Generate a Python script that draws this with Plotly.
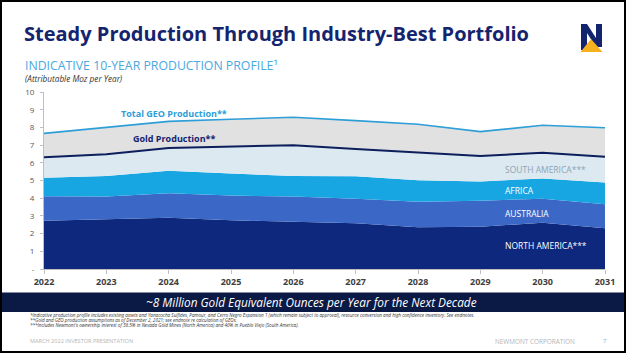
import plotly.graph_objects as go

years = [2022, 2023, 2024, 2025, 2026, 2027, 2028, 2029, 2030, 2031]
north_america = [2.73, 2.81, 2.90, 2.75, 2.67, 2.58, 2.36, 2.39, 2.62, 2.30]
australia = [1.38, 1.28, 1.38, 1.40, 1.42, 1.39, 1.44, 1.47, 1.35, 1.36]
africa = [1.05, 1.16, 1.27, 1.24, 1.16, 1.27, 1.22, 1.09, 1.15, 1.22]
south_america = [1.15, 1.23, 1.29, 1.52, 1.74, 1.54, 1.56, 1.43, 1.45, 1.46]
other_metals = [1.35, 1.52, 1.50, 1.55, 1.58, 1.60, 1.60, 1.38, 1.55, 1.64]
y_tick_vals = [0, 1, 2, 3, 4, 5, 6, 7, 8, 9, 10]
y_tick_text = ["-", "1", "2", "3", "4", "5", "6", "7", "8", "9", "10"]

gold_total = [a + b + c + d for a, b, c, d in zip(north_america, australia, africa, south_america)]
geo_total = [g + o for g, o in zip(gold_total, other_metals)]

W, H = 626, 353
L, R, T, B = 44, 605, 92, 269


def px(x):
    return (x - L) / (R - L)


def py(y):
    return (B - y) / (B - T)


FONT = "Open Sans"
fig = go.Figure()

areas = [
    ("North America", north_america, "#0d287d"),
    ("Australia", australia, "#3b68c6"),
    ("Africa", africa, "#18a6e3"),
    ("South America", south_america, "#dce9f0"),
    ("Other", other_metals, "#e1e1e1"),
]
for name, vals, col in areas:
    fig.add_trace(go.Scatter(x=years, y=vals, name=name, stackgroup="one", mode="none",
                             fillcolor=col, hoverinfo="skip"))

fig.add_trace(go.Scatter(x=years, y=gold_total, mode="lines", line=dict(color="#0c1f5c", width=2),
                         hoverinfo="skip"))
fig.add_trace(go.Scatter(x=years, y=geo_total, mode="lines", line=dict(color="#2e9ed8", width=1.6),
                         hoverinfo="skip"))

shapes = []
# slide frame
shapes.append(dict(type="rect", xref="paper", yref="paper", x0=px(1), x1=px(625), y0=py(352), y1=py(1),
                   line=dict(color="#000000", width=2), fillcolor="rgba(0,0,0,0)", layer="above"))
# banner
shapes.append(dict(type="rect", xref="paper", yref="paper", x0=px(2), x1=px(624), y0=py(312), y1=py(292.5),
                   line=dict(width=0), fillcolor="#0b1945", layer="below"))


def path(pts):
    return "M " + " L ".join(f"{px(x):.5f},{py(y):.5f}" for x, y in pts) + " Z"


n_pts = [(581, 24), (587, 24), (596, 38), (596, 24), (602, 24), (602, 47), (596, 47),
         (587, 33), (587, 50), (581, 50)]
shapes.append(dict(type="path", xref="paper", yref="paper", path=path(n_pts),
                   fillcolor="#13246e", line=dict(width=0)))
tri = [(580.5, 52), (591, 39), (602.5, 52)]
shapes.append(dict(type="path", xref="paper", yref="paper", path=path(tri),
                   fillcolor="#f5b120", line=dict(width=0)))

ann = []


def text(x, y, s, size, color, xanchor="left", weight="normal", style="normal", family=FONT):
    ann.append(dict(x=px(x), y=py(y), xref="paper", yref="paper", text=s, showarrow=False,
                    xanchor=xanchor, yanchor="middle",
                    font=dict(family=family, size=size, color=color, weight=weight, style=style)))


text(22, 34, "Steady Production Through Industry-Best Portfolio", 20, "#14246e", weight="bold")
text(23, 65, "INDICATIVE 10-YEAR PRODUCTION PROFILE\u00b9", 12.3, "#4aa8de")
text(23, 79, "(Attributable Moz per Year)", 8.2, "#333333", style="italic")

text(119, 113, "Total GEO Production**", 9, "#2e9ed8", weight="bold")
text(131, 138, "Gold Production**", 9, "#13246e", weight="bold")

text(503, 169, "SOUTH AMERICA***", 8.5, "#8ea3b6")
text(503, 190, "AFRICA", 8.5, "#ffffff")
text(503, 213, "AUSTRALIA", 8.5, "#ffffff")
text(503, 245, "NORTH AMERICA***", 8.5, "#ffffff")

text(311, 302, "~8 Million Gold Equivalent Ounces per Year for the Next Decade", 11.8, "#ffffff",
     xanchor="center", style="italic")

text(28, 315, "*Indicative production profile includes existing assets and Yanacocha Sulfides, Pamour, and Cerro Negro "
              "Expansion 1 (which remain subject to approval), resource conversion and high confidence inventory. See endnotes.",
     4.6, "#333333", style="italic")
text(28, 319.8, "**Gold and GEO production assumptions as of December 2, 2021; see endnote re calculation of GEOs.",
     4.6, "#333333", style="italic")
text(28, 324.6, "***Includes Newmont's ownership interest of 38.5% in Nevada Gold Mines (North America) and 40% in "
                "Pueblo Viejo (South America).", 4.6, "#333333", style="italic")
text(28, 341, "MARCH 2022 INVESTOR PRESENTATION", 5.6, "#b5b5b5")
text(493, 341, "NEWMONT CORPORATION", 6.4, "#b5b5b5")
text(605, 341, "7", 6, "#6fb6e4", xanchor="center")

fig.update_layout(
    width=W, height=H,
    margin=dict(l=L, r=W - R, t=T, b=H - B, pad=0),
    paper_bgcolor="#ffffff", plot_bgcolor="#ffffff",
    showlegend=False,
    shapes=shapes, annotations=ann,
    xaxis=dict(range=[2022, 2031], tickvals=years, ticktext=[str(y) for y in years],
               showgrid=False, zeroline=False, showline=True, linecolor="#bfbfbf", linewidth=1,
               ticks="outside", ticklen=4, tickcolor="#bfbfbf",
               tickfont=dict(family=FONT, size=9, color="#404040", weight="bold")),
    yaxis=dict(range=[0, 10], tickvals=y_tick_vals, ticktext=y_tick_text,
               showgrid=False, zeroline=False, showline=True, linecolor="#bfbfbf", linewidth=1,
               ticks="outside", ticklen=3, tickcolor="#bfbfbf", ticklabelstandoff=4,
               tickfont=dict(family=FONT, size=8, color="#595959")),
)

fig.write_html("out.html")
